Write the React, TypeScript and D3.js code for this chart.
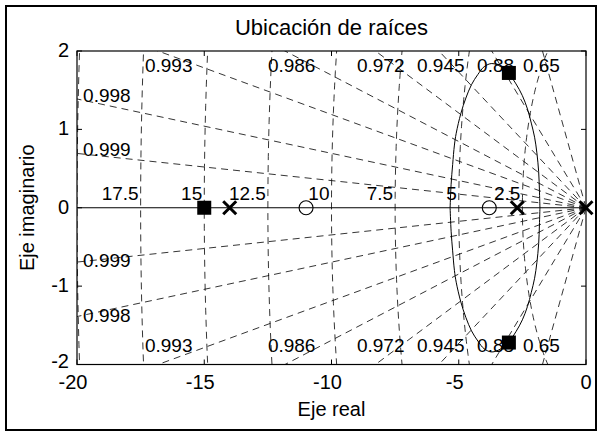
import React from 'react';
import * as d3 from 'd3';

// ---- data ----
const xDomain: [number, number] = [-20, 0];
const yDomain: [number, number] = [-2, 2];
const xTicks = [-20, -15, -10, -5, 0];
const yTicks = [-2, -1, 0, 1, 2];

// constant damping lines (zeta) of the s-plane grid
const dampingRatios = [0.9994, 0.9976, 0.993, 0.986, 0.972, 0.945, 0.88, 0.65];
const dampingLabels = ['0.999', '0.998', '0.993', '0.986', '0.972', '0.945', '0.88', '0.65'];
const dampingLabelRe = [-19.76, -19.76, -17.33, -12.5, -9.0, -6.64, -4.28, -2.48];
const dampingLabelImUpper = [0.74, 1.43, 1.82, 1.82, 1.82, 1.82, 1.82, 1.82];
const dampingLabelImLower = [-0.67, -1.37, -1.76, -1.76, -1.76, -1.76, -1.76, -1.76];

// constant natural frequency arcs
const naturalFreqs = [2.5, 5, 7.5, 10, 12.5, 15, 17.5, 20];
const naturalFreqLabels = ['2.5', '5', '7.5', '10', '12.5', '15', '17.5'];

// open-loop poles (x), zeros (o), closed-loop poles (squares)
const polesRe = [-14, -2.7, 0];
const zerosRe = [-11, -3.8];
const closedRe = [-15, -3.03, -3.03];
const closedIm = [0, 1.72, -1.72];

// root-locus complex branch (upper and lower halves)
const locusUpper: [number, number][] = [
  [-1.81, 0], [-1.83, 0.22], [-1.86, 0.46], [-1.93, 0.7], [-2.02, 0.9], [-2.15, 1.08],
  [-2.3, 1.26], [-2.5, 1.43], [-2.75, 1.58], [-3.03, 1.71], [-3.35, 1.8], [-3.7, 1.84],
  [-4.0, 1.8], [-4.25, 1.7], [-4.5, 1.57], [-4.72, 1.4], [-4.92, 1.2], [-5.1, 0.95],
  [-5.17, 0.8], [-5.24, 0.55], [-5.3, 0.3], [-5.34, 0],
];
const locusLower: [number, number][] = [
  [-1.81, 0], [-1.83, -0.22], [-1.86, -0.46], [-1.93, -0.7], [-2.02, -0.9], [-2.15, -1.08],
  [-2.3, -1.26], [-2.5, -1.43], [-2.75, -1.58], [-3.03, -1.71], [-3.35, -1.8], [-3.7, -1.84],
  [-4.0, -1.8], [-4.25, -1.7], [-4.5, -1.57], [-4.72, -1.4], [-4.92, -1.2], [-5.1, -0.95],
  [-5.17, -0.8], [-5.24, -0.55], [-5.3, -0.3], [-5.34, 0],
];

const title = 'Ubicación de raíces';
const xLabel = 'Eje real';
const yLabel = 'Eje imaginario';

const W = 601;
const H = 436;
const FONT = '"Liberation Sans", Arial, Helvetica, sans-serif';

export default function App() {
  const x = d3.scaleLinear().domain(xDomain).range([77, 586]);
  const y = d3.scaleLinear().domain(yDomain).range([364.5, 51]);
  const [x0, x1] = x.range();
  const [yb, yt] = y.range();

  const line = d3
    .line<[number, number]>()
    .x((d) => x(d[0]))
    .y((d) => y(d[1]));

  const dash = '7,5';
  const angles = d3.range(90, 270.5, 1).map((a) => (a * Math.PI) / 180);

  return (
    <svg
      width={W}
      height={H}
      style={{ position: 'absolute', left: 0, top: 0, background: '#fff' }}
      fontFamily={FONT}
    >
      <rect x={0} y={0} width={W} height={H} fill="#fff" />
      <rect x={6} y={6} width={590} height={424} fill="none" stroke="#000" strokeWidth={2} />
      <defs>
        <clipPath id="plotClip">
          <rect x={x0} y={yt} width={x1 - x0} height={yb - yt} />
        </clipPath>
      </defs>

      <g clipPath="url(#plotClip)">
        {/* damping lines */}
        {dampingRatios.map((z, i) => {
          const s = Math.sqrt(1 - z * z);
          return (
            <g key={'z' + i}>
              <path d={line([[0, 0], [-z * 40, s * 40]]) || ''} stroke="#000" strokeWidth={0.8} strokeDasharray={dash} fill="none" />
              <path d={line([[0, 0], [-z * 40, -s * 40]]) || ''} stroke="#000" strokeWidth={0.8} strokeDasharray={dash} fill="none" />
            </g>
          );
        })}
        {/* natural frequency arcs */}
        {naturalFreqs.map((w, i) => (
          <path
            key={'w' + i}
            d={line(angles.map((a) => [w * Math.cos(a), w * Math.sin(a)] as [number, number])) || ''}
            stroke="#000"
            strokeWidth={0.8}
            strokeDasharray={dash}
            fill="none"
          />
        ))}
        {/* real axis locus */}
        <path d={line([[xDomain[0], 0], [xDomain[1], 0]]) || ''} stroke="#000" strokeWidth={1} fill="none" />
        {/* complex branches */}
        <path d={line.curve(d3.curveCatmullRom)(locusUpper) || ''} stroke="#000" strokeWidth={1} fill="none" />
        <path d={line.curve(d3.curveCatmullRom)(locusLower) || ''} stroke="#000" strokeWidth={1} fill="none" />
      </g>

      {/* grid labels */}
      <g fontSize={19} fill="#000">
        {dampingLabels.map((t, i) => (
          <g key={'dl' + i}>
            <text x={x(dampingLabelRe[i])} y={y(dampingLabelImUpper[i])} dy="0.35em">{t}</text>
            <text x={x(dampingLabelRe[i])} y={y(dampingLabelImLower[i])} dy="0.35em">{t}</text>
          </g>
        ))}
        {naturalFreqLabels.map((t, i) => (
          <text key={'fl' + i} x={x(-naturalFreqs[i]) - 2} y={y(0) - 8} textAnchor="end">{t}</text>
        ))}
      </g>

      {/* axes box */}
      <rect x={x0} y={yt} width={x1 - x0} height={yb - yt} fill="none" stroke="#000" strokeWidth={1.2} />
      {xTicks.map((t) => (
        <g key={'xt' + t}>
          <line x1={x(t)} x2={x(t)} y1={yb} y2={yb - 5} stroke="#000" />
          <line x1={x(t)} x2={x(t)} y1={yt} y2={yt + 5} stroke="#000" />
          <text x={x(t)} dx={t < 0 ? -4 : 0} y={389} textAnchor="middle" fontSize={20}>{t}</text>
        </g>
      ))}
      {yTicks.map((t) => (
        <g key={'yt' + t}>
          <line x1={x0} x2={x0 + 5} y1={y(t)} y2={y(t)} stroke="#000" />
          <line x1={x1} x2={x1 - 5} y1={y(t)} y2={y(t)} stroke="#000" />
          <text x={69} y={y(t)} dy={t === -2 ? '0.18em' : '0.3em'} textAnchor="end" fontSize={20}>{t}</text>
        </g>
      ))}

      {/* markers */}
      {zerosRe.map((r, i) => (
        <circle key={'zr' + i} cx={x(r)} cy={y(0)} r={7} fill="none" stroke="#000" strokeWidth={1.1} />
      ))}
      {polesRe.map((r, i) => (
        <path
          key={'p' + i}
          d={`M${x(r) - 6.5},${y(0) - 6.5}L${x(r) + 6.5},${y(0) + 6.5}M${x(r) - 6.5},${y(0) + 6.5}L${x(r) + 6.5},${y(0) - 6.5}`}
          stroke="#000"
          strokeWidth={3}
          fill="none"
        />
      ))}
      {closedRe.map((r, i) => (
        <rect key={'c' + i} x={x(r) - 7} y={y(closedIm[i]) - 7} width={14} height={14} fill="#000" />
      ))}

      {/* titles */}
      <text x={(x0 + x1) / 2} y={35} textAnchor="middle" fontSize={22}>{title}</text>
      <text x={(x0 + x1) / 2} y={416} textAnchor="middle" fontSize={20}>{xLabel}</text>
      <text transform={`translate(34,${(yt + yb) / 2}) rotate(-90)`} textAnchor="middle" fontSize={20}>{yLabel}</text>
    </svg>
  );
}
